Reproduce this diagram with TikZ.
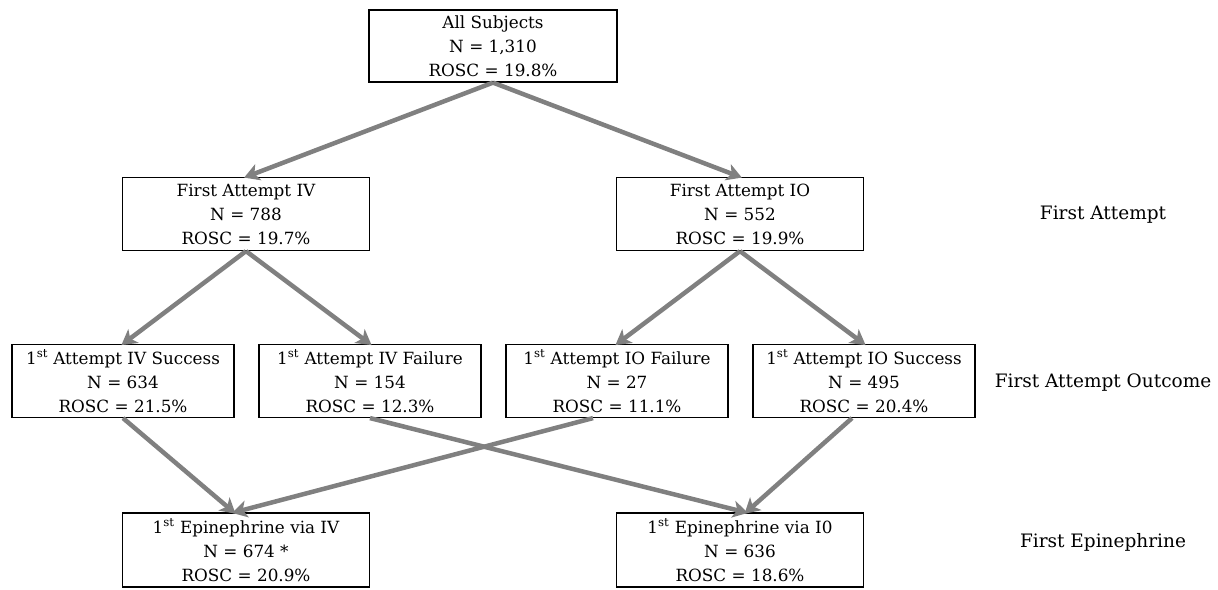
\documentclass[tikz,border=0pt]{standalone}
\usepackage{fontspec}
\setmainfont{DejaVu Serif}
\usetikzlibrary{arrows.meta}

\begin{document}
\begin{tikzpicture}[x=1pt,y=-1pt,
		box/.style={draw, line width=1.2pt, align=center, inner sep=0pt,
			font=\fontsize{16.8}{24}\selectfont, minimum height=73pt},
		wide/.style={box, minimum width=247pt},
		narrow/.style={box, minimum width=222pt},
		side/.style={font=\fontsize{18.5}{22}\selectfont},
		arr/.style={draw=black!50, line width=4.5pt,
			-{Stealth[length=15pt, width=17pt, inset=4pt]}, shorten >=-2pt}]
			\useasboundingbox (0,0) rectangle (1218,589);
			% top
			\node[box, minimum width=248pt, minimum height=72pt] (all) at (493,46) {All Subjects\\N = 1,310\\ROSC = 19.8\%};
			% first attempt
			\node[wide] (iv) at (246,214) {First Attempt IV\\N = 788\\ROSC = 19.7\%};
			\node[wide] (io) at (740,214) {First Attempt IO\\N = 552\\ROSC = 19.9\%};
			% outcome
			\node[narrow] (ivs) at (123,381) {1\textsuperscript{st} Attempt IV Success\\N = 634\\ROSC = 21.5\%};
			\node[narrow] (ivf) at (370,381) {1\textsuperscript{st} Attempt IV Failure\\N = 154\\ROSC = 12.3\%};
			\node[narrow] (iof) at (617,381) {1\textsuperscript{st} Attempt IO Failure\\N = 27\\ROSC = 11.1\%};
			\node[narrow] (ios) at (864,381) {1\textsuperscript{st} Attempt IO Success\\N = 495\\ROSC = 20.4\%};
			% epinephrine
			\node[wide, minimum height=74pt] (epiv) at (246,550) {1\textsuperscript{st} Epinephrine via IV\\N = 674 *\\ROSC = 20.9\%};
			\node[wide, minimum height=74pt] (epio) at (740,550) {1\textsuperscript{st} Epinephrine via I0\\N = 636\\ROSC = 18.6\%};
			% row labels
			\node[side] (l1) at (1103,215) {First Attempt};
			\node[side] (l2) at (1103,383) {First Attempt Outcome};
			\node[side] (l3) at (1103,542) {First Epinephrine};
			% arrows
			\draw[arr] (all.south) -- (iv.north);
			\draw[arr] (all.south) -- (io.north);
			\draw[arr] (iv.south) -- (ivs.north);
			\draw[arr] (iv.south) -- (ivf.north);
			\draw[arr] (io.south) -- (iof.north);
			\draw[arr] (io.south) -- (ios.north);
			\draw[arr] (ivs.south) -- ([xshift=-12pt]epiv.north);
			\draw[arr] ([xshift=-24pt]iof.south) -- ([xshift=-12pt]epiv.north);
			\draw[arr] (ivf.south) -- ([xshift=6pt]epio.north);
			\draw[arr] ([xshift=-12pt]ios.south) -- ([xshift=6pt]epio.north);
		\end{tikzpicture}
\end{document}
